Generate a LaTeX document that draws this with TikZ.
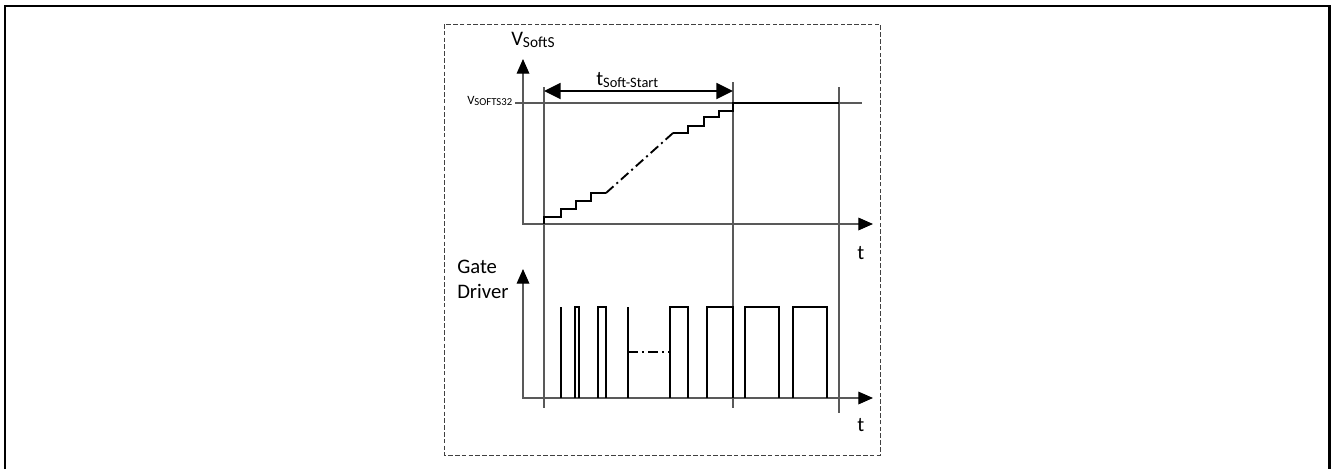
\documentclass[tikz,border=0pt]{standalone}
\usepackage{fontspec}
\setmainfont{Carlito}
\usetikzlibrary{arrows.meta}
\newcommand{\mysub}[2][0.55]{\raisebox{-0.3ex}{\fontsize{#2}{#2}\selectfont #1}}
\tikzset{
  frame/.style={line width=1.6pt,black},
  dashbox/.style={draw=black!75,line width=0.75pt,dash pattern=on 3.5pt off 1.6pt},
  grid/.style={draw=black!65,line width=0.8pt},
  axis/.style={draw=black!65,line width=0.9pt,-{Triangle[length=11pt,width=9.5pt,black]}},
  wave/.style={draw=black,line width=1.5pt,line join=miter},
  wavethin/.style={draw=black,line width=1.4pt},
  dashdot/.style={draw=black,line width=1.4pt,dash pattern=on 7.5pt off 3pt on 1.5pt off 3pt},
  dimarrow/.style={draw=black,line width=1.4pt,{Triangle[length=12.5pt,width=12pt]}-{Triangle[length=12.5pt,width=12pt]}},
  lbl/.style={inner sep=0pt,anchor=base west,font=\fontsize{15.5pt}{18pt}\selectfont}
}
\begin{document}
\begin{tikzpicture}[x=0.75pt,y=-0.75pt]
\useasboundingbox (0,0) rectangle (1331,469);
% outer frame (open at the bottom)
\draw[frame] (5,469) -- (5,6) -- (1329.5,6) -- (1329.5,469);
% dashed box
\draw[dashbox] (444,24) rectangle (880,455);
% coordinates
\coordinate (yA0) at (523,224); \coordinate (yA1) at (523,59);
\coordinate (xA0) at (522,224); \coordinate (xA1) at (873,224);
\coordinate (yB0) at (523,398); \coordinate (yB1) at (523,269);
\coordinate (xB0) at (522,398); \coordinate (xB1) at (873,398);
% vertical grid lines
\draw[grid] (544,87) -- (544,408);
\draw[grid] (733,82) -- (733,408);
\draw[grid] (839,87) -- (839,413);
% V_SOFTS32 level
\draw[grid] (515,103) -- (862,103);
% axes
\draw[axis] (yA0) -- (yA1);
\draw[axis] (xA0) -- (xA1);
\draw[axis] (yB0) -- (yB1);
\draw[axis] (xB0) -- (xB1);
% soft-start dimension arrow
\coordinate (dL) at (544,91);
\coordinate (dR) at (733,91);
\draw[dimarrow] (dL) -- (dR);
% labels
\node[lbl] (vsofts) at (511,45) {V\mysub[SoftS]{11.5pt}};
\node[lbl] (tss) at (596,85) {t\mysub[Soft-Start]{10.8pt}};
\node[lbl,font=\fontsize{9.5pt}{12pt}\selectfont] (vs32) at (467,104) {V\mysub[SOFTS32]{8pt}};
\node[lbl] (t1) at (857,259) {t};
\node[lbl] (t2) at (857,431) {t};
\node[lbl] (gate) at (457,273) {Gate};
\node[lbl] (driver) at (457,298) {Driver};
% staircase
\draw[wave] (544,224) -- (544,217) -- (561,217) -- (561,209) -- (576,209) -- (576,201) -- (591,201) -- (591,193) -- (606,193);
\draw[dashdot] (606,193) -- (673,133);
\draw[wave] (673,133) -- (688,133) -- (688,126) -- (704,126) -- (704,117) -- (719,117) -- (719,111) -- (733,111) -- (733,103) -- (839,103);
% gate driver pulses
\draw[wavethin] (561,398) -- (561,307);
\draw[wavethin] (575,398) -- (575,307) -- (579,307) -- (579,398);
\draw[wavethin] (598,398) -- (598,307) -- (606,307) -- (606,398);
\draw[wavethin] (628,398) -- (628,307);
\draw[dashdot] (628,352) -- (670,352);
\draw[wavethin] (670,398) -- (670,307) -- (688,307) -- (688,398);
\draw[wavethin] (707,398) -- (707,307) -- (733,307) -- (733,398);
\draw[wavethin] (745,398) -- (745,307) -- (779,307) -- (779,398);
\draw[wavethin] (793,398) -- (793,307) -- (827,307) -- (827,398);
\end{tikzpicture}
\end{document}
